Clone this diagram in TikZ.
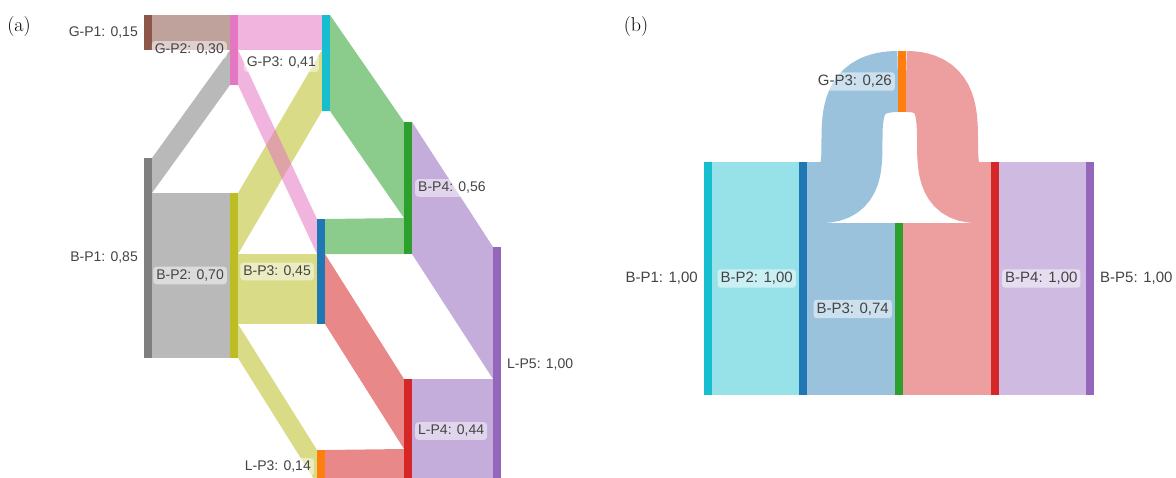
\documentclass[tikz,border=0pt]{standalone}
\usepackage{fontspec}
\setsansfont{Liberation Sans}
\usepackage{tikz}
\usepackage{xcolor}
\usetikzlibrary{positioning,backgrounds}

\definecolor{cbrown}{HTML}{8C564B}
\definecolor{cpink}{HTML}{E377C2}
\definecolor{ccyan}{HTML}{17BECF}
\definecolor{cgray}{HTML}{7F7F7F}
\definecolor{colive}{HTML}{BCBD22}
\definecolor{cblue}{HTML}{1F77B4}
\definecolor{corange}{HTML}{FF7F0E}
\definecolor{cgreen}{HTML}{2CA02C}
\definecolor{cred}{HTML}{D62728}
\definecolor{cpurple}{HTML}{9467BD}
\definecolor{lcyan}{HTML}{97E2E9}
\definecolor{lblue}{HTML}{9AC2DD}
\definecolor{lred}{HTML}{ED9E9E}
\definecolor{lpurple}{HTML}{CFBBE1}
\definecolor{tagtext}{HTML}{444444}

\tikzset{
  bar/.style={anchor=north west, minimum width=8pt, minimum height=#1,
    inner sep=0pt, outer sep=0pt},
  link/.style={fill=#1, fill opacity=0.55},
  slink/.style={draw=#1, line width=61pt},
  tag/.style={font=\sffamily\fontsize{14}{16}\selectfont, text=tagtext,
    fill=white, fill opacity=0.5, text opacity=1, rounded corners=3pt,
    inner sep=3pt},
  panel/.style={font=\fontsize{20}{24}\selectfont}
}

% band from source (offsets #3..#4) to target (offsets #6..#7)
\newcommand{\flow}[7]
        {\fill[#1] ([yshift=-#3pt]#2.north east) -- ([yshift=-#6pt]#5.north west)
          -- ([yshift=-#7pt]#5.north west) -- ([yshift=-#4pt]#2.north east) -- cycle;}

\begin{document}
\begin{tikzpicture}[x=1pt,y=-1pt]
\useasboundingbox (0,0) rectangle (1176,477);

\node[panel] (tagA) at (19,27) {(a)};
\node[panel] (tagB) at (636,27) {(b)};

% (a)
\node[bar=35, fill=cbrown] (gp1a) at (144,15) {};
\node[bar=70, fill=cpink] (gp2a) at (230,15) {};
\node[bar=96, fill=ccyan] (gp3a) at (322,15) {};
\node[bar=200, fill=cgray] (bp1a) at (144,158) {};
\node[bar=165, fill=colive] (bp2a) at (230,193) {};
\node[bar=105, fill=cblue] (bp3a) at (317,219) {};
\node[bar=34, fill=corange] (lp3a) at (317,450) {};
\node[bar=132, fill=cgreen] (bp4a) at (404,122) {};
\node[bar=104, fill=cred] (lp4a) at (404,379) {};
\node[bar=236, fill=cpurple] (lp5a) at (493,247) {};

\begin{pgfonlayer}{background}
\flow{link=cbrown}{gp1a}{0}{35}{gp2a}{0}{35}
\flow{link=cpink}{gp2a}{0}{35}{gp3a}{0}{35}
\flow{link=cgray}{bp1a}{0}{35}{gp2a}{35}{70}
\flow{link=cgray}{bp1a}{35}{200}{bp2a}{0}{165}
\flow{link=colive}{bp2a}{0}{61}{gp3a}{35}{96}
\flow{link=colive}{bp2a}{61}{131}{bp3a}{35}{105}
\flow{link=colive}{bp2a}{131}{165}{lp3a}{0}{34}
\flow{link=cpink}{gp2a}{35}{70}{bp3a}{0}{35}
\flow{link=cgreen}{gp3a}{0}{96}{bp4a}{0}{96}
\flow{link=cgreen}{bp3a}{0}{35}{bp4a}{96}{132}
\flow{link=cred}{bp3a}{35}{105}{lp4a}{0}{70}
\flow{link=cred}{lp3a}{0}{34}{lp4a}{70}{104}
\flow{link=cpurple}{bp4a}{0}{132}{lp5a}{0}{132}
\flow{link=cpurple}{lp4a}{0}{104}{lp5a}{132}{236}
\end{pgfonlayer}

\node[tag, left=3pt of gp1a] (gp1atag) {G-P1: 0,15};
\node[tag, left=3pt of gp2a] (gp2atag) {G-P2: 0,30};
\node[tag, left=3pt of gp3a] (gp3atag) {G-P3: 0,41};
\node[tag, left=3pt of bp1a] (bp1atag) {B-P1: 0,85};
\node[tag, left=3pt of bp2a] (bp2atag) {B-P2: 0,70};
\node[tag, left=3pt of bp3a] (bp3atag) {B-P3: 0,45};
\node[tag, left=3pt of lp3a] (lp3atag) {L-P3: 0,14};
\node[tag, right=3pt of bp4a] (bp4atag) {B-P4: 0,56};
\node[tag, right=3pt of lp4a] (lp4atag) {L-P4: 0,44};
\node[tag, right=3pt of lp5a] (lp5atag) {L-P5: 1,00};

% (b)
\node[bar=233, fill=ccyan] (bp1b) at (704,162) {};
\node[bar=233, fill=cblue] (bp2b) at (799,162) {};
\node[bar=61, fill=corange] (gp3b) at (898,51) {};
\node[bar=172, fill=cgreen] (bp3b) at (895,223) {};
\node[bar=233, fill=cred] (bp4b) at (991,162) {};
\node[bar=233, fill=cpurple] (bp5b) at (1086,162) {};

\begin{pgfonlayer}{background}
\flow{lcyan}{bp1b}{0}{233}{bp2b}{0}{233}
\flow{lblue}{bp2b}{61}{233}{bp3b}{0}{172}
\draw[slink=lblue] ([yshift=-30.5pt]bp2b.north east) -- ++(14,0)
  .. controls +(66,0) and +(-86,0) .. ([yshift=-30.5pt]gp3b.north west);
\draw[slink=lred] ([yshift=-30.5pt]gp3b.north east)
  .. controls +(78,0) and +(-62,0) .. ([xshift=-14pt,yshift=-30.5pt]bp4b.north west)
  -- ([yshift=-30.5pt]bp4b.north west);
\flow{lred}{bp3b}{0}{172}{bp4b}{61}{233}
\flow{lpurple}{bp4b}{0}{233}{bp5b}{0}{233}
\end{pgfonlayer}

\begin{scope}[tag/.append style={font=\sffamily\fontsize{15}{17}\selectfont}]
\node[tag, left=3pt of bp1b] (bp1btag) {B-P1: 1,00};
\node[tag, left=3pt of bp2b] (bp2btag) {B-P2: 1,00};
\node[tag, left=3pt of gp3b] (gp3btag) {G-P3: 0,26};
\node[tag, left=3pt of bp3b] (bp3btag) {B-P3: 0,74};
\node[tag, right=3pt of bp4b] (bp4btag) {B-P4: 1,00};
\node[tag, right=3pt of bp5b] (bp5btag) {B-P5: 1,00};
\end{scope}
\end{tikzpicture}
\end{document}
